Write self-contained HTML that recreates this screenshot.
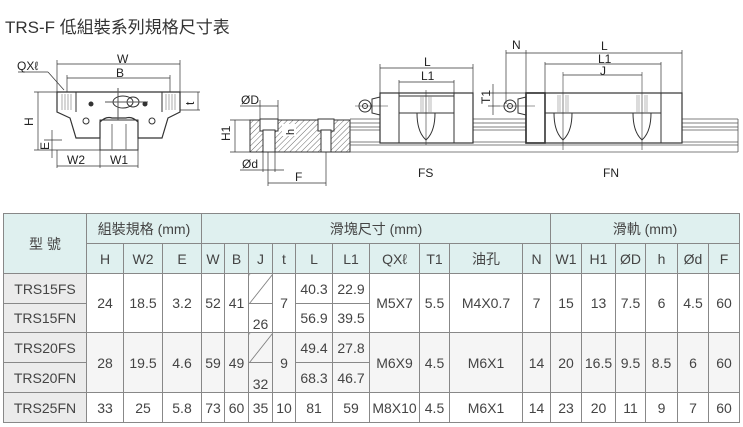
<!DOCTYPE html>
<html><head><meta charset="utf-8"><style>
body{margin:0;width:743px;height:427px;background:#fff;overflow:hidden;position:relative;font-family:"Liberation Sans","Noto Sans CJK TC",sans-serif;}
.title{position:absolute;left:5px;top:13px;font-size:17px;color:#333;white-space:nowrap;}
svg{position:absolute;left:0;top:0}
table{position:absolute;left:3px;top:213px;border-collapse:collapse;table-layout:fixed;font-size:14px;color:#444;}
td{border:1.5px solid #888;text-align:center;padding:0;white-space:nowrap;overflow:hidden;}
.h{background:#dff0ef;}
.m{background:#ebebeb;}
.g{background:#f5f5f5;}
</style></head><body>
<div class="title">TRS-F 低組裝系列規格尺寸表</div>
<svg width="743" height="213" viewBox="0 0 743 213" fill="none" stroke="#333" stroke-width="1" font-family="Liberation Sans,sans-serif">
<g>
<path d="M57 92 H180 V112 L168 118 L162 138 H138 V122 Q132 116 126 118 H112 Q106 116 100 122 V138 H76 L70 118 L57 112 Z" stroke-width="1.2"/>
<line x1="76" y1="92" x2="76" y2="112"/><line x1="162" y1="92" x2="162" y2="112"/>
<g stroke="#888" stroke-width="0.7"><line x1="62" y1="94" x2="62" y2="110"/><line x1="65" y1="94" x2="65" y2="110"/><line x1="68" y1="94" x2="68" y2="110"/><line x1="71" y1="94" x2="71" y2="110"/><line x1="166" y1="94" x2="166" y2="110"/><line x1="169" y1="94" x2="169" y2="110"/><line x1="172" y1="94" x2="172" y2="110"/><line x1="175" y1="94" x2="175" y2="110"/></g>
<rect x="100" y="120" width="38" height="30"/>
<line x1="112" y1="124" x2="112" y2="150" stroke="#777"/><line x1="126" y1="124" x2="126" y2="150" stroke="#777"/>
<ellipse cx="123" cy="102" rx="10" ry="6"/><ellipse cx="133" cy="102" rx="6" ry="5"/>
<line x1="118" y1="88" x2="118" y2="120" stroke="#555"/><line x1="105" y1="102" x2="148" y2="102" stroke="#555"/>
<circle cx="91" cy="104" r="2" fill="#333"/><circle cx="145" cy="104" r="2" fill="#333"/>
<circle cx="86" cy="121" r="3"/><circle cx="152" cy="121" r="3"/>
<g stroke-width="0.7">
<line x1="57" y1="60" x2="57" y2="92"/><line x1="180" y1="60" x2="180" y2="92"/><line x1="57" y1="64" x2="180" y2="64"/>
<line x1="67" y1="78" x2="170" y2="78"/><line x1="67" y1="75" x2="67" y2="92"/><line x1="170" y1="75" x2="170" y2="92"/>
<line x1="18" y1="72" x2="48" y2="72"/><line x1="48" y1="72" x2="64" y2="90"/>
<line x1="34" y1="92" x2="57" y2="92"/><line x1="34" y1="150" x2="100" y2="150"/><line x1="38" y1="92" x2="38" y2="150"/>
<line x1="44" y1="140" x2="62" y2="140"/><line x1="52" y1="130" x2="52" y2="158"/>
<line x1="180" y1="92" x2="200" y2="92"/><line x1="180" y1="110" x2="200" y2="110"/><line x1="198" y1="92" x2="198" y2="110"/>
<line x1="57" y1="150" x2="57" y2="168"/><line x1="100" y1="150" x2="100" y2="168"/><line x1="138" y1="150" x2="138" y2="168"/><line x1="57" y1="166" x2="138" y2="166"/>
</g>
<g fill="#222" stroke="none" font-size="12"><text x="117" y="63">W</text><text x="116" y="77">B</text><text x="17" y="70">QXℓ</text><text x="67" y="164">W2</text><text x="110" y="164">W1</text>
<text transform="translate(33,126) rotate(-90)">H</text><text transform="translate(49,150) rotate(-90)">E</text><text transform="translate(194,105) rotate(-90)">t</text></g>
</g>
<defs><pattern id="hp" width="4" height="4" patternUnits="userSpaceOnUse" patternTransform="rotate(45)"><line x1="0" y1="0" x2="0" y2="4" stroke="#444" stroke-width="0.8"/></pattern></defs>
<path d="M250 120 H350 V152 H250 Z" fill="url(#hp)" stroke="#333"/>
<rect x="260" y="119" width="18" height="12" fill="#fff" stroke="#333"/><rect x="263" y="130" width="12" height="22" fill="#fff" stroke="#333"/>
<rect x="318" y="119" width="16" height="12" fill="#fff" stroke="#333"/><rect x="321" y="130" width="10" height="22" fill="#fff" stroke="#333"/>
<rect x="282" y="124" width="14" height="12" fill="#fff" stroke="none"/>
<g stroke-width="0.7"><line x1="230" y1="120" x2="250" y2="120"/><line x1="230" y1="152" x2="250" y2="152"/><line x1="235" y1="120" x2="235" y2="152"/>
<line x1="240" y1="106" x2="278" y2="106"/><line x1="260" y1="100" x2="260" y2="119"/><line x1="278" y1="100" x2="278" y2="119"/>
<line x1="240" y1="170" x2="284" y2="170"/><line x1="263" y1="152" x2="263" y2="172"/><line x1="275" y1="152" x2="275" y2="172"/>
<line x1="268" y1="152" x2="268" y2="186"/><line x1="326" y1="152" x2="326" y2="186"/><line x1="268" y1="183" x2="326" y2="183"/></g>
<g fill="#222" stroke="none" font-size="12"><text x="241" y="104">ØD</text><text x="242" y="168">Ød</text><text x="295" y="181">F</text>
<text transform="translate(230,141) rotate(-90)">H1</text><text transform="translate(294,135) rotate(-90)" font-size="11">h</text></g>
<g stroke="#555" stroke-width="0.8"><line x1="350" y1="119" x2="738" y2="119"/><line x1="350" y1="123" x2="738" y2="123"/><line x1="350" y1="127" x2="738" y2="127"/><line x1="350" y1="130" x2="738" y2="130"/><line x1="350" y1="142" x2="738" y2="142"/><line x1="350" y1="145" x2="738" y2="145"/><line x1="350" y1="152" x2="738" y2="152"/><line x1="738" y1="119" x2="738" y2="152"/></g>
<rect x="380" y="93" width="93" height="50" fill="#fff" stroke-width="1.2"/>
<line x1="399" y1="93" x2="399" y2="143"/><line x1="454" y1="93" x2="454" y2="143"/><line x1="399" y1="96" x2="454" y2="96"/><line x1="399" y1="113" x2="454" y2="113"/>
<path d="M417 113 Q417 132 426 140 Q435 132 435 113"/><line x1="426" y1="90" x2="426" y2="145" stroke-width="0.6"/>
<g stroke="#888" stroke-width="0.6"><line x1="421" y1="96" x2="421" y2="113"/><line x1="423" y1="96" x2="423" y2="113"/><line x1="429" y1="96" x2="429" y2="113"/><line x1="431" y1="96" x2="431" y2="113"/></g>
<path d="M372 99 L380 97 V115 L372 113 Z"/><circle cx="365" cy="106" r="6"/><circle cx="365" cy="106" r="2.5"/><line x1="355" y1="106" x2="388" y2="106" stroke-width="0.6"/>
<g stroke-width="0.7"><line x1="380" y1="64" x2="380" y2="93"/><line x1="473" y1="64" x2="473" y2="93"/><line x1="380" y1="68" x2="473" y2="68"/>
<line x1="399" y1="80" x2="399" y2="93"/><line x1="454" y1="80" x2="454" y2="93"/><line x1="399" y1="82" x2="454" y2="82"/></g>
<rect x="526" y="93" width="156" height="50" fill="#fff" stroke-width="1.2"/>
<line x1="545" y1="93" x2="545" y2="143"/><line x1="661" y1="93" x2="661" y2="143"/><line x1="545" y1="113" x2="661" y2="113"/><rect x="526" y="93" width="19" height="50" stroke-width="1.6"/>
<path d="M554 113 Q554 132 563 140 Q572 132 572 113"/><path d="M633 113 Q633 132 642 140 Q651 132 651 113"/>
<line x1="563" y1="72" x2="563" y2="150" stroke-width="0.6"/><line x1="642" y1="72" x2="642" y2="150" stroke-width="0.6"/>
<g stroke="#888" stroke-width="0.6"><line x1="558" y1="95" x2="558" y2="113"/><line x1="560" y1="95" x2="560" y2="113"/><line x1="566" y1="95" x2="566" y2="113"/><line x1="568" y1="95" x2="568" y2="113"/><line x1="637" y1="95" x2="637" y2="113"/><line x1="639" y1="95" x2="639" y2="113"/><line x1="645" y1="95" x2="645" y2="113"/><line x1="647" y1="95" x2="647" y2="113"/></g>
<path d="M518 99 L526 97 V115 L518 113 Z"/><circle cx="510" cy="106" r="6"/><circle cx="510" cy="106" r="2.5"/><line x1="500" y1="106" x2="535" y2="106" stroke-width="0.6"/>
<g stroke-width="0.7"><line x1="526" y1="50" x2="526" y2="93"/><line x1="682" y1="50" x2="682" y2="93"/><line x1="506" y1="53" x2="682" y2="53"/><line x1="506" y1="50" x2="506" y2="104"/>
<line x1="545" y1="62" x2="545" y2="93"/><line x1="661" y1="62" x2="661" y2="93"/><line x1="545" y1="64" x2="661" y2="64"/><line x1="563" y1="75" x2="642" y2="75"/>
<line x1="488" y1="93" x2="526" y2="93"/><line x1="488" y1="106" x2="500" y2="106"/><line x1="493" y1="84" x2="493" y2="115"/></g>
<g fill="#222" stroke="none" font-size="12"><text x="424" y="66">L</text><text x="421" y="80">L1</text><text x="512" y="49">N</text><text x="601" y="50">L</text><text x="598" y="63">L1</text><text x="600" y="75">J</text>
<text transform="translate(490,104) rotate(-90)">T1</text><text x="418" y="177" font-size="12">FS</text><text x="603" y="177" font-size="12">FN</text></g>
</svg>
<table>
<colgroup><col style="width:83px"><col style="width:37px"><col style="width:39px"><col style="width:39px"><col style="width:23px"><col style="width:24px"><col style="width:24px"><col style="width:23px"><col style="width:37px"><col style="width:37px"><col style="width:50px"><col style="width:30px"><col style="width:73px"><col style="width:28px"><col style="width:31px"><col style="width:34px"><col style="width:30px"><col style="width:32px"><col style="width:31px"><col style="width:31px"></colgroup>
<tr style="height:30px"><td class="h" rowspan="2">型 號</td><td class="h" colspan="3">組裝規格 (mm)</td><td class="h" colspan="10">滑塊尺寸 (mm)</td><td class="h" colspan="6">滑軌 (mm)</td></tr>
<tr style="height:30px" class="h"><td>H</td><td>W2</td><td>E</td><td>W</td><td>B</td><td>J</td><td>t</td><td>L</td><td>L1</td><td>QXℓ</td><td>T1</td><td>油孔</td><td>N</td><td>W1</td><td>H1</td><td>ØD</td><td>h</td><td>Ød</td><td>F</td></tr>
<tr style="height:30px"><td class="m">TRS15FS</td><td rowspan="2">24</td><td rowspan="2">18.5</td><td rowspan="2">3.2</td><td rowspan="2">52</td><td rowspan="2">41</td><td style="background:linear-gradient(to bottom right,#fff 48%,#666 50%,#fff 52%)"></td><td rowspan="2">7</td><td>40.3</td><td>22.9</td><td rowspan="2">M5X7</td><td rowspan="2">5.5</td><td rowspan="2">M4X0.7</td><td rowspan="2">7</td><td rowspan="2">15</td><td rowspan="2">13</td><td rowspan="2">7.5</td><td rowspan="2">6</td><td rowspan="2">4.5</td><td rowspan="2">60</td></tr>
<tr style="height:29px"><td class="m">TRS15FN</td><td style="vertical-align:bottom">26</td><td>56.9</td><td>39.5</td></tr>
<tr style="height:30px" class="g"><td class="m">TRS20FS</td><td rowspan="2">28</td><td rowspan="2">19.5</td><td rowspan="2">4.6</td><td rowspan="2">59</td><td rowspan="2">49</td><td style="background:linear-gradient(to bottom right,#f5f5f5 48%,#666 50%,#f5f5f5 52%)"></td><td rowspan="2">9</td><td>49.4</td><td>27.8</td><td rowspan="2">M6X9</td><td rowspan="2">4.5</td><td rowspan="2">M6X1</td><td rowspan="2">14</td><td rowspan="2">20</td><td rowspan="2">16.5</td><td rowspan="2">9.5</td><td rowspan="2">8.5</td><td rowspan="2">6</td><td rowspan="2">60</td></tr>
<tr style="height:30px" class="g"><td class="m">TRS20FN</td><td style="vertical-align:bottom">32</td><td>68.3</td><td>46.7</td></tr>
<tr style="height:30px"><td class="m">TRS25FN</td><td>33</td><td>25</td><td>5.8</td><td>73</td><td>60</td><td>35</td><td>10</td><td>81</td><td>59</td><td>M8X10</td><td>4.5</td><td>M6X1</td><td>14</td><td>23</td><td>20</td><td>11</td><td>9</td><td>7</td><td>60</td></tr>
</table>
</body></html>
